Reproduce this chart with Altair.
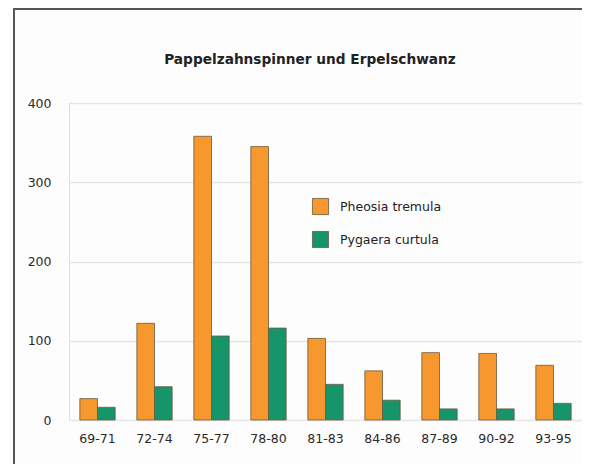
import altair as alt
import pandas as pd

periods = ["69-71", "72-74", "75-77", "78-80", "81-83", "84-86", "87-89", "90-92", "93-95"]
pheosia = [27, 122, 358, 345, 103, 62, 85, 84, 69]
pygaera = [16, 42, 106, 116, 45, 25, 14, 14, 21]
series = ["Pheosia tremula", "Pygaera curtula"]
colors = ["#f7982f", "#16946a"]
y_ticks = [0, 100, 200, 300, 400]
title_text = "Pappelzahnspinner und Erpelschwanz"

rows = []
for p, a, b in zip(periods, pheosia, pygaera):
    rows.append({"period": p, "species": series[0], "count": a})
    rows.append({"period": p, "species": series[1], "count": b})
df = pd.DataFrame(rows)

FONT = "DejaVu Sans"
FS = 12.5

bars = alt.Chart(df).mark_bar(stroke="#6a5a40", strokeWidth=0.8).encode(
    x=alt.X("period:N", sort=periods, title=None,
            scale=alt.Scale(paddingInner=0.38, paddingOuter=0.19),
            axis=alt.Axis(labelAngle=0, domain=False, ticks=False, labelPadding=12,
                          labelFontSize=FS, labelColor="#2a2a2a", labelFont=FONT)),
    xOffset=alt.XOffset("species:N", sort=series),
    y=alt.Y("count:Q", title=None,
            scale=alt.Scale(domain=[0, 400], nice=False),
            axis=alt.Axis(values=y_ticks, domain=False, ticks=False, labelPadding=18,
                          labelFontSize=FS, labelColor="#2a2a2a", labelFont=FONT,
                          grid=True, gridColor="#e6e6e6", gridWidth=1.5)),
    color=alt.Color("species:N", sort=series,
                    scale=alt.Scale(domain=series, range=colors),
                    legend=alt.Legend(title=None, orient="none", legendX=243, legendY=95,
                                      symbolType="square", symbolSize=260,
                                      symbolStrokeColor="#6a5a40", symbolStrokeWidth=0.8,
                                      labelFontSize=FS, labelFont=FONT, labelColor="#222",
                                      rowPadding=12, labelOffset=11)),
)

border = pd.DataFrame({"k": [0]})
top_line = alt.Chart(border).mark_rule(stroke="#555", strokeWidth=2).encode(
    x=alt.value(-55), x2=alt.value(600), y=alt.value(-94),
)
left_line = alt.Chart(border).mark_rule(stroke="#555", strokeWidth=2).encode(
    x=alt.value(-55), y=alt.value(-95), y2=alt.value(400),
)

title = alt.Chart(pd.DataFrame({"t": [title_text]})).mark_text(
    font=FONT, fontSize=13.7, fontWeight="bold", color="#222",
    align="center", baseline="middle"
).encode(
    text="t:N", x=alt.value(241), y=alt.value(-43),
)

chart = alt.layer(top_line, left_line, bars, title).properties(
    width=513, height=317,
    autosize=alt.AutoSizeParams(type="none"),
    padding={"left": 61, "top": 95, "right": 0, "bottom": 44},
).configure_view(stroke=None).configure(background="#fdfdfd")

chart.save("out.html", embed_options={"renderer": "svg", "actions": False})
